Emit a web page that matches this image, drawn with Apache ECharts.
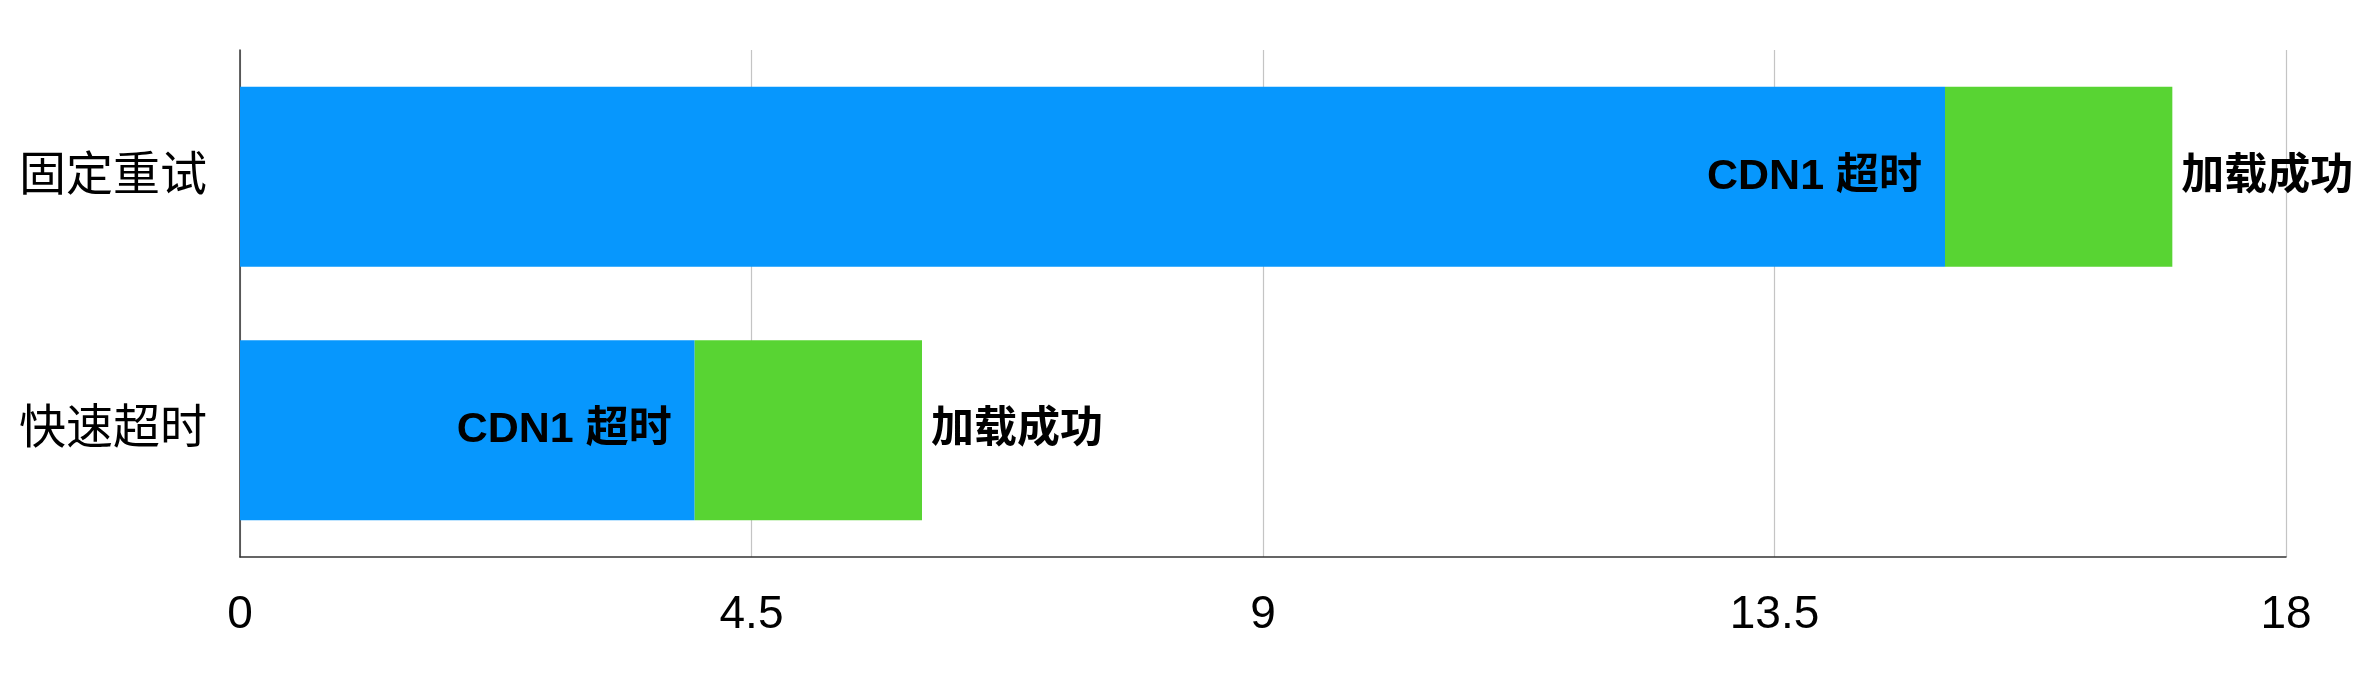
<!DOCTYPE html>
<html>
<head>
<meta charset="utf-8">
<script src="https://cdn.jsdelivr.net/npm/echarts@6/dist/echarts.min.js"></script>
<style>html,body{margin:0;padding:0;background:#fff;}#c{width:2378px;height:682px;}</style>
</head>
<body>
<div id="c"></div>
<script>
const categories = ['快速超时', '固定重试'];
const timeoutValues = [4, 15];
const successValues = [2, 2];
const timeoutLabel = 'CDN1 超时';
const successLabel = '加载成功';
const xTicks = [0, 4.5, 9, 13.5, 18];

const FONT = '"Liberation Sans", "Noto Sans CJK SC", sans-serif';
const chart = echarts.init(document.getElementById('c'));
chart.setOption({
  animation: false,
  backgroundColor: '#ffffff',
  grid: { left: 240, right: 92, top: 50, bottom: 125, containLabel: false },
  xAxis: {
    type: 'value', min: xTicks[0], max: xTicks[xTicks.length - 1], interval: 4.5,
    axisLine: { show: true, lineStyle: { color: '#333', width: 1.5 } },
    axisTick: { show: false },
    splitLine: { show: true, lineStyle: { color: '#c4c4c4', width: 1.2 } },
    axisLabel: { color: '#000', fontSize: 46, fontFamily: FONT, margin: 35 }
  },
  yAxis: {
    type: 'category', data: categories,
    axisLine: { show: true, lineStyle: { color: '#333', width: 1.5 } },
    axisTick: { show: false },
    axisLabel: { color: '#000', fontSize: 47, fontFamily: FONT, margin: 33 }
  },
  series: [
    {
      name: timeoutLabel, type: 'bar', stack: 't', data: timeoutValues,
      barWidth: '71%',
      itemStyle: { color: '#0797fd' },
      label: { show: true, position: 'insideRight', distance: 23, formatter: timeoutLabel,
        color: '#000', fontSize: 43, fontWeight: 'bold', fontFamily: FONT }
    },
    {
      name: successLabel, type: 'bar', stack: 't', data: successValues,
      itemStyle: { color: '#58d433' },
      label: { show: true, position: 'right', distance: 9, formatter: successLabel,
        color: '#000', fontSize: 43, fontWeight: 'bold', fontFamily: FONT }
    }
  ]
});
</script>
</body>
</html>
